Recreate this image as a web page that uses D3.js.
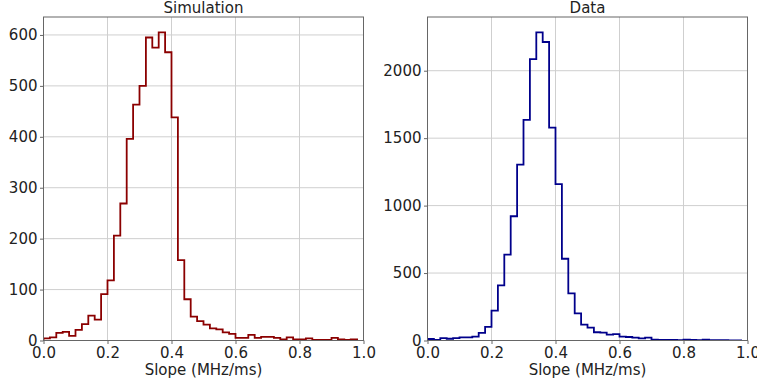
<!DOCTYPE html>
<html>
<head>
<meta charset="utf-8">
<script src="https://cdn.jsdelivr.net/npm/d3@7"></script>
<style>
  html, body { margin: 0; padding: 0; background: #fff; }
  svg text { font-family: "DejaVu Sans", sans-serif; fill: #222; }
</style>
</head>
<body>
<svg id="chart" width="757" height="383"></svg>
<script>
// Histogram binning: 49 bins of width 0.02 starting at 0
const binStart = 0;
const binWidth = 0.02;

// Counts per bin
const simulationCounts = [
  4, 6, 15, 17, 9, 21, 32, 49, 41, 91,
  118, 206, 269, 396, 463, 500, 595, 575, 605, 566,
  438, 158, 81, 47, 38, 31, 24, 22, 16, 13,
  5, 5, 11, 5, 7, 7, 5, 2, 6, 2,
  2, 4, 1, 1, 1, 5, 2, 1, 2
];
const dataCounts = [
  11, 5, 18, 13, 18, 23, 23, 28, 56, 101,
  221, 409, 636, 921, 1304, 1635, 2086, 2284, 2213, 1578,
  1159, 606, 350, 201, 117, 95, 61, 58, 43, 48,
  28, 26, 21, 16, 21, 6, 5, 4, 5, 3,
  6, 4, 3, 6, 2, 2, 2, 1, 1
];

const xTicks = [0, 0.2, 0.4, 0.6, 0.8, 1.0];
const simYTicks = [0, 100, 200, 300, 400, 500, 600];
const dataYTicks = [0, 500, 1000, 1500, 2000];

const panels = [
  { title: "Simulation", counts: simulationCounts, yTicks: simYTicks, color: "#8b0000", left: 43.5 },
  { title: "Data", counts: dataCounts, yTicks: dataYTicks, color: "#00008b", left: 427.5 }
];

const svg = d3.select("#chart");
const plotW = 320, plotTop = 17, plotBottom = 340.5;
const gridColor = "#cfcfcf", spineColor = "#666";
const fontSize = "15px";

panels.forEach((p, pi) => {
  const x = d3.scaleLinear().domain([0, 1]).range([p.left, p.left + plotW]);
  const yMax = d3.max(p.counts) * 1.05;
  const y = d3.scaleLinear().domain([0, yMax]).range([plotBottom, plotTop]);
  const g = svg.append("g");

  // grid
  g.append("g").selectAll("line").data(xTicks).join("line")
    .attr("x1", d => x(d)).attr("x2", d => x(d))
    .attr("y1", plotTop).attr("y2", plotBottom)
    .attr("stroke", gridColor).attr("stroke-width", 1);
  g.append("g").selectAll("line").data(p.yTicks).join("line")
    .attr("x1", p.left).attr("x2", p.left + plotW)
    .attr("y1", d => y(d)).attr("y2", d => y(d))
    .attr("stroke", gridColor).attr("stroke-width", 1);

  // step outline of the histogram
  const pts = [[x(binStart), y(0)]];
  p.counts.forEach((c, i) => {
    const e0 = binStart + i * binWidth, e1 = e0 + binWidth;
    pts.push([x(e0), y(c)], [x(e1), y(c)]);
  });
  pts.push([x(binStart + p.counts.length * binWidth), y(0)]);
  const clipId = "clip" + pi;
  svg.append("clipPath").attr("id", clipId).append("rect")
    .attr("x", p.left).attr("y", plotTop).attr("width", plotW).attr("height", plotBottom - plotTop);
  g.append("path")
    .attr("d", d3.line()(pts))
    .attr("fill", "none")
    .attr("stroke", p.color)
    .attr("stroke-width", 1.8)
    .attr("stroke-linejoin", "miter")
    .attr("clip-path", `url(#${clipId})`);

  // frame
  g.append("rect")
    .attr("x", p.left).attr("y", plotTop).attr("width", plotW).attr("height", plotBottom - plotTop)
    .attr("fill", "none").attr("stroke", spineColor).attr("stroke-width", 1);

  // axes
  const xAxis = d3.axisBottom(x).tickValues(xTicks).tickFormat(d3.format(".1f"))
    .tickSizeOuter(0).tickSizeInner(3.5).tickPadding(3);
  const xg = g.append("g").attr("transform", `translate(0,${plotBottom})`).call(xAxis);
  const yAxis = d3.axisLeft(y).tickValues(p.yTicks).tickFormat(d3.format("d"))
    .tickSizeOuter(0).tickSizeInner(3.5).tickPadding(2.5);
  const yg = g.append("g").attr("transform", `translate(${p.left},0)`).call(yAxis);
  [xg, yg].forEach(a => {
    a.select(".domain").remove();
    a.selectAll(".tick line").attr("stroke", spineColor);
    a.selectAll(".tick text").style("font-size", fontSize)
      .style("font-family", "'DejaVu Sans', sans-serif").attr("fill", "#222");
  });
  xg.selectAll(".tick text").attr("dy", "0.71em");

  // title and axis label
  g.append("text")
    .attr("x", p.left + plotW / 2).attr("y", 13.3)
    .attr("text-anchor", "middle").style("font-size", fontSize)
    .text(p.title);
  g.append("text")
    .attr("x", p.left + plotW / 2).attr("y", 375)
    .attr("text-anchor", "middle").style("font-size", fontSize)
    .text("Slope (MHz/ms)");
});
</script>
</body>
</html>
